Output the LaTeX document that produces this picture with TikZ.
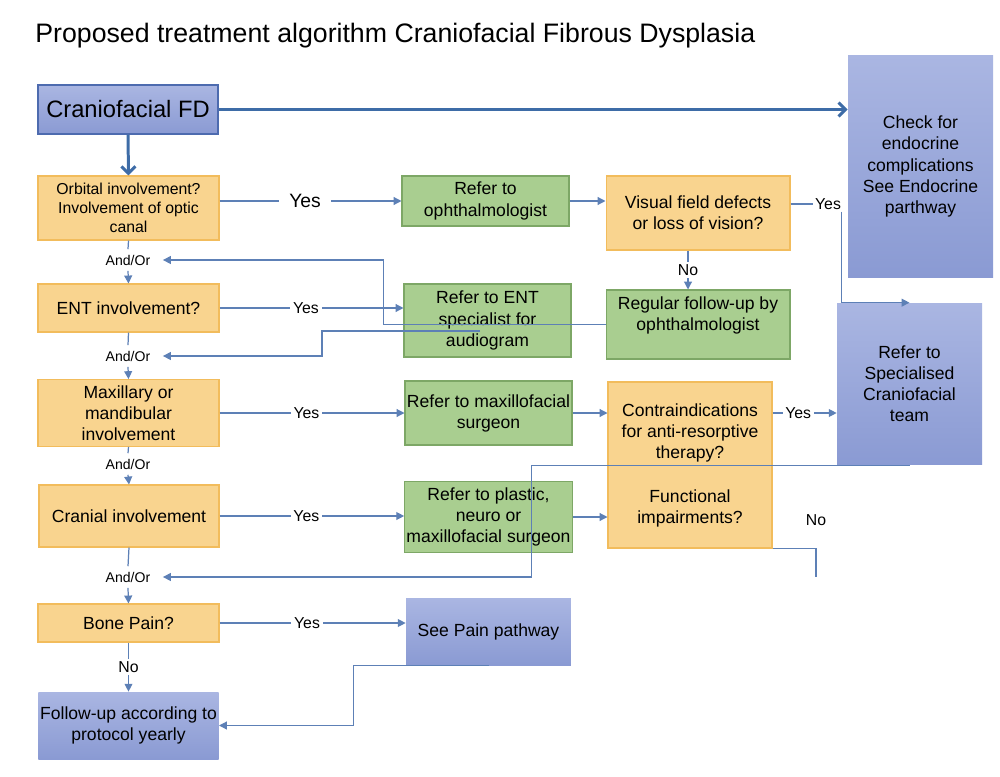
\documentclass[tikz,border=0pt]{standalone}
\usepackage{fontspec}
\setmainfont{Liberation Sans}
\usepackage{xcolor}
\definecolor{query fill}{HTML}{F9D48F}
\definecolor{query edge}{HTML}{F2BC5C}
\definecolor{refer fill}{HTML}{A9CE90}
\definecolor{refer edge}{HTML}{7DA766}
\definecolor{outcome top}{HTML}{AAB6E2}
\definecolor{outcome bottom}{HTML}{8A9AD3}
\definecolor{outcome edge}{HTML}{4D6BAF}
\definecolor{link color}{HTML}{5D80B6}
\definecolor{main color}{HTML}{3E6CA7}
\tikzset{query/.style={fill=query fill, draw=query edge, line width=0.6pt, align=center,
        inner xsep=1pt, font=\fontsize{10}{12}\selectfont},
    refer/.style={fill=refer fill, draw=refer edge, line width=0.6pt, align=center,
        inner xsep=1pt, font=\fontsize{10}{12}\selectfont},
    outcome/.style={top color=outcome top, bottom color=outcome bottom, align=center,
        inner xsep=1pt, font=\fontsize{10}{12}\selectfont},
    link/.style={draw=link color, line width=0.7pt},
    pointed/.style={-{Triangle[length=4.5pt,width=4.5pt]}},
    main link/.style={draw=main color, line width=1.7pt, -{Straight Barb[length=4pt,width=8pt]}},
    yes/.style={fill=white, inner sep=1.5pt, font=\fontsize{9}{10}\selectfont},
    andor/.style={inner sep=3pt, font=\fontsize{8}{9}\selectfont}}
\usetikzlibrary{arrows.meta}

\begin{document}
\begin{tikzpicture}[x=0.02cm, y=-0.02cm]
    \useasboundingbox (0,0) rectangle (1000,777);
    \node[anchor=west, inner sep=0pt, font=\fontsize{15.2}{18}\selectfont] (title) at (35,36)
        {Proposed treatment algorithm Craniofacial Fibrous Dysplasia};

    \node[outcome, draw=outcome edge, line width=0.6pt, minimum width=3.6cm, minimum height=0.98cm,
        font=\fontsize{13.5}{16}\selectfont] (fd) at (128,109.5) {Craniofacial FD};
    \node[outcome, minimum width=2.9cm, minimum height=4.46cm] (endo) at (920.5,166.5)
        {Check for\\endocrine\\complications\\See Endocrine\\parthway};

    \node[query, minimum width=3.62cm, minimum height=1.28cm, font=\fontsize{9}{11}\selectfont]
        (orbital) at (128.5,208) {Orbital involvement?\\Involvement of optic\\canal};
    \node[query, minimum width=3.62cm, minimum height=0.96cm] (ent) at (128.5,308) {ENT involvement?};
    \node[query, minimum width=3.62cm, minimum height=1.28cm] (maxil) at (128.5,413)
        {Maxillary or\\mandibular\\involvement};
    \node[query, minimum width=3.6cm, minimum height=1.24cm] (cranial) at (129,516) {Cranial involvement};
    \node[query, minimum width=3.62cm, minimum height=0.76cm] (bone) at (128.5,623) {Bone Pain?};
    \node[outcome, minimum width=3.58cm, minimum height=1.34cm] (follow) at (128.5,725.5)
        {Follow-up according to\\protocol yearly};

    \node[refer, minimum width=3.34cm, minimum height=1.0cm] (ophth) at (485.5,201)
        {Refer to\\ophthalmologist};
    \node[query, minimum width=3.68cm, minimum height=1.48cm] (visual) at (698,213)
        {Visual field defects\\or loss of vision?};
    \node[refer, minimum width=3.34cm, minimum height=1.46cm] (entref) at (487.5,320.5)
        {Refer to ENT\\specialist for\\audiogram};
    \node[refer, minimum width=3.68cm, minimum height=1.38cm] (regular) at (698,324.5)
        {Regular follow-up by\\ophthalmologist\\\mbox{}};
    \node[outcome, minimum width=2.9cm, minimum height=3.24cm] (team) at (909.5,384)
        {Refer to\\Specialised\\Craniofacial\\team};
    \node[refer, minimum width=3.34cm, minimum height=1.28cm] (maxref) at (488.5,413)
        {Refer to maxillofacial\\surgeon};
    \node[query, minimum width=3.28cm, minimum height=3.32cm] (contra) at (690,465) {};
    \node[align=center, font=\fontsize{10}{12}\selectfont] (contratext) at (690,433)
        {Contraindications\\for anti-resorptive\\therapy?};
    \node[align=center, font=\fontsize{10}{12}\selectfont] (functext) at (690,508)
        {Functional\\impairments?};
    \node[refer, minimum width=3.34cm, minimum height=1.28cm] (plastic) at (488.5,517)
        {Refer to plastic,\\neuro or\\maxillofacial surgeon};
    \node[outcome, minimum width=3.3cm, minimum height=1.34cm] (pain) at (488.5,631.5)
        {See Pain pathway};

    \node[andor] (ao1) at (128,260) {And/Or};
    \node[andor] (ao2) at (128,356) {And/Or};
    \node[andor] (ao3) at (128,464) {And/Or};
    \node[andor] (ao4) at (128,577) {And/Or};
    \node[yes, fill=none, inner sep=1pt] (vyes) at (828,204) {Yes};
    \node[yes, fill=none] (fno) at (816,520) {No};
    \coordinate (fend) at (816,577);

    \draw[main link] (fd.east) -- (fd.east -| endo.west);
    \draw[main link] (fd.south) -- (orbital.north);

    \draw[link, pointed] (orbital.east |- ophth.west) -- node[yes, pos=0.47, inner sep=6pt,
        font=\fontsize{11}{12}\selectfont] {Yes} (ophth.west);
    \draw[link, pointed] (ophth.east) -- (ophth.east -| visual.west);
    \draw[link] (visual.east |- vyes) -- (vyes.west);
    \draw[link, pointed] ([xshift=-1pt]vyes.south east) |- (team.north);
    \draw[link, pointed] ([xshift=-2mm]visual.south) -- node[yes] {No} ([xshift=-2mm]regular.north);
    \draw[link, pointed, shorten >=4pt] (regular.west) -- ++(-222,0) |- (ao1.east);
    \draw[link] (orbital.south) -- (ao1.north);
    \draw[link, pointed] (ao1.south) -- (ent.north);

    \draw[link, pointed] (ent.east) -- node[yes, pos=0.47] {Yes} (ent.east -| entref.west);
    \draw[link, pointed, shorten >=4pt] ([shift={(-7.5,10.5)}]entref.center) -- ++(-158,0) |- (ao2.east);
    \draw[link] (ent.south) -- (ao2.north);
    \draw[link, pointed] (ao2.south) -- (maxil.north);

    \draw[link, pointed] (maxil.east) -- node[yes, pos=0.47] {Yes} (maxref.west);
    \draw[link, pointed] (maxref.east) -- (maxref.east -| contra.west);
    \draw[link, pointed] (maxref.east -| contra.east) -- node[yes, pos=0.4] {Yes} (maxref.east -| team.west);
    \draw[link] (maxil.south) -- (ao3.north);
    \draw[link, pointed] (ao3.south) -- (cranial.north);

    \draw[link, pointed] (cranial.east) -- node[yes, pos=0.47] {Yes} (cranial.east -| plastic.west);
    \draw[link, pointed] (plastic.east) -- (plastic.east -| contra.west);
    \draw[link, pointed, shorten >=4pt] (team.south) -- ++(-378,0) |- (ao4.east);
    \draw[link] (contra.south east) -| (fend);
    \draw[link] (cranial.south) -- (ao4.north);
    \draw[link, pointed] (ao4.south) -- (bone.north);

    \draw[link, pointed] (bone.east) -- node[yes, pos=0.47] {Yes} (bone.east -| pain.west);
    \draw[link, pointed] (bone.south) -- node[yes] {No} (follow.north);
    \draw[link, pointed] (pain.south) -- ++(-135,0) |- (follow.east);
\end{tikzpicture}
\end{document}
